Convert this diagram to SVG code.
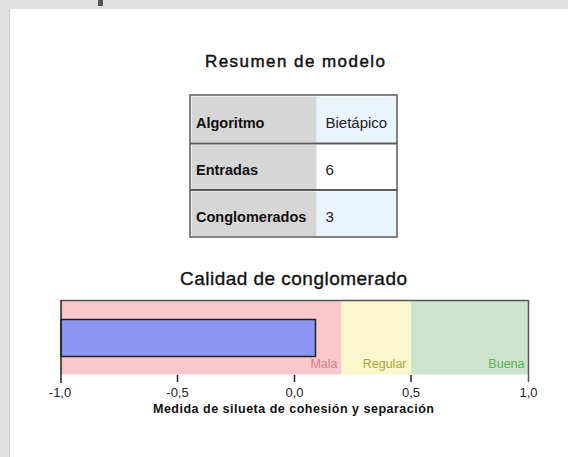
<svg xmlns="http://www.w3.org/2000/svg" width="568" height="457" viewBox="0 0 568 457">
<style>
  text { font-family: "Liberation Sans", Arial, sans-serif; fill: #000; }
  .title { font-size: 17px; text-anchor: middle; fill: #111; stroke: #111; stroke-width: 0.45; }
  .ctitle { font-size: 19px; text-anchor: middle; fill: #111; stroke: #111; stroke-width: 0.35; }
  .hdr { font-size: 14.5px; font-weight: bold; fill: #111; }
  .val { font-size: 15px; fill: #222; }
  .tick { font-size: 13px; text-anchor: middle; fill: #222; }
  .axt { font-size: 12.5px; font-weight: bold; text-anchor: middle; fill: #111; }
  .zone { font-size: 12.5px; text-anchor: end; }
  .tline { stroke: #5a5a5a; stroke-width: 2; }
  .tk { stroke: #222; stroke-width: 1.5; }
</style>
<rect x="0" y="0" width="568" height="457" fill="#e0e0e0"/>
<rect x="9" y="9" width="559" height="448" fill="#ffffff"/>
<line x1="9.5" y1="9" x2="9.5" y2="457" stroke="#cfcfcf" stroke-width="1"/>
<rect x="98" y="0" width="5" height="6" fill="#555555"/>

<text class="title" x="295" y="67" textLength="180" lengthAdjust="spacing">Resumen de modelo</text>

<g id="table">
  <rect x="190" y="95" width="207" height="142" fill="#ffffff"/>
  <rect x="191.5" y="96.5" width="125" height="45.5" fill="#d6d6d6"/>
  <rect x="317" y="96.5" width="79" height="45.5" fill="#eaf4fe"/>
  <rect x="191.5" y="145" width="125" height="44" fill="#d6d6d6"/>
  <rect x="317" y="145" width="79" height="44" fill="#ffffff"/>
  <rect x="191.5" y="191.5" width="125" height="44.5" fill="#d6d6d6"/>
  <rect x="317" y="191.5" width="79" height="44.5" fill="#eaf4fe"/>
  <rect x="190" y="95" width="207" height="142" fill="none" stroke="#5a5a5a" stroke-width="1.5"/>
  <line class="tline" x1="190" y1="143.5" x2="397" y2="143.5"/>
  <line class="tline" x1="190" y1="190" x2="397" y2="190"/>
  <text class="hdr" x="196" y="128.3">Algoritmo</text>
  <text class="val" x="325.5" y="128.3">Bietápico</text>
  <text class="hdr" x="196" y="175">Entradas</text>
  <text class="val" x="325.5" y="175">6</text>
  <text class="hdr" x="196" y="221.7">Conglomerados</text>
  <text class="val" x="325.5" y="221.7">3</text>
</g>

<text class="ctitle" x="293.5" y="285" textLength="227" lengthAdjust="spacing">Calidad de conglomerado</text>

<g id="chart">
  <rect x="61" y="300" width="280.5" height="74.5" fill="#f8c9ca"/>
  <rect x="341.5" y="300" width="69.5" height="74.5" fill="#f9f7cb"/>
  <rect x="411" y="300" width="117.5" height="74.5" fill="#cde3cb"/>
  <line x1="61" y1="300.5" x2="528.5" y2="300.5" stroke="#555" stroke-width="1.5"/>
  <line x1="528.5" y1="300" x2="528.5" y2="382" stroke="#555" stroke-width="1.5"/>
  <rect x="61" y="319.5" width="254.5" height="37" fill="#8c96f0" stroke="#222" stroke-width="1.5"/>
  <line x1="61" y1="300" x2="61" y2="383" stroke="#222" stroke-width="1.5"/>
  <line class="tk" x1="177.5" y1="375" x2="177.5" y2="382"/>
  <line class="tk" x1="294.5" y1="375" x2="294.5" y2="382"/>
  <line class="tk" x1="411" y1="375" x2="411" y2="382"/>
  <text class="zone" x="337.5" y="368" style="fill:#d27f8f">Mala</text>
  <text class="zone" x="406.5" y="368" style="fill:#aaa83a">Regular</text>
  <text class="zone" x="524.5" y="368" style="fill:#58b058">Buena</text>
  <text class="tick" x="60" y="396.5">-1,0</text>
  <text class="tick" x="177.5" y="396.5">-0,5</text>
  <text class="tick" x="294.5" y="396.5">0,0</text>
  <text class="tick" x="411" y="396.5">0,5</text>
  <text class="tick" x="528.5" y="396.5">1,0</text>
  <text class="axt" x="293.5" y="413" textLength="281" lengthAdjust="spacing">Medida de silueta de cohesión y separación</text>
</g>
</svg>
